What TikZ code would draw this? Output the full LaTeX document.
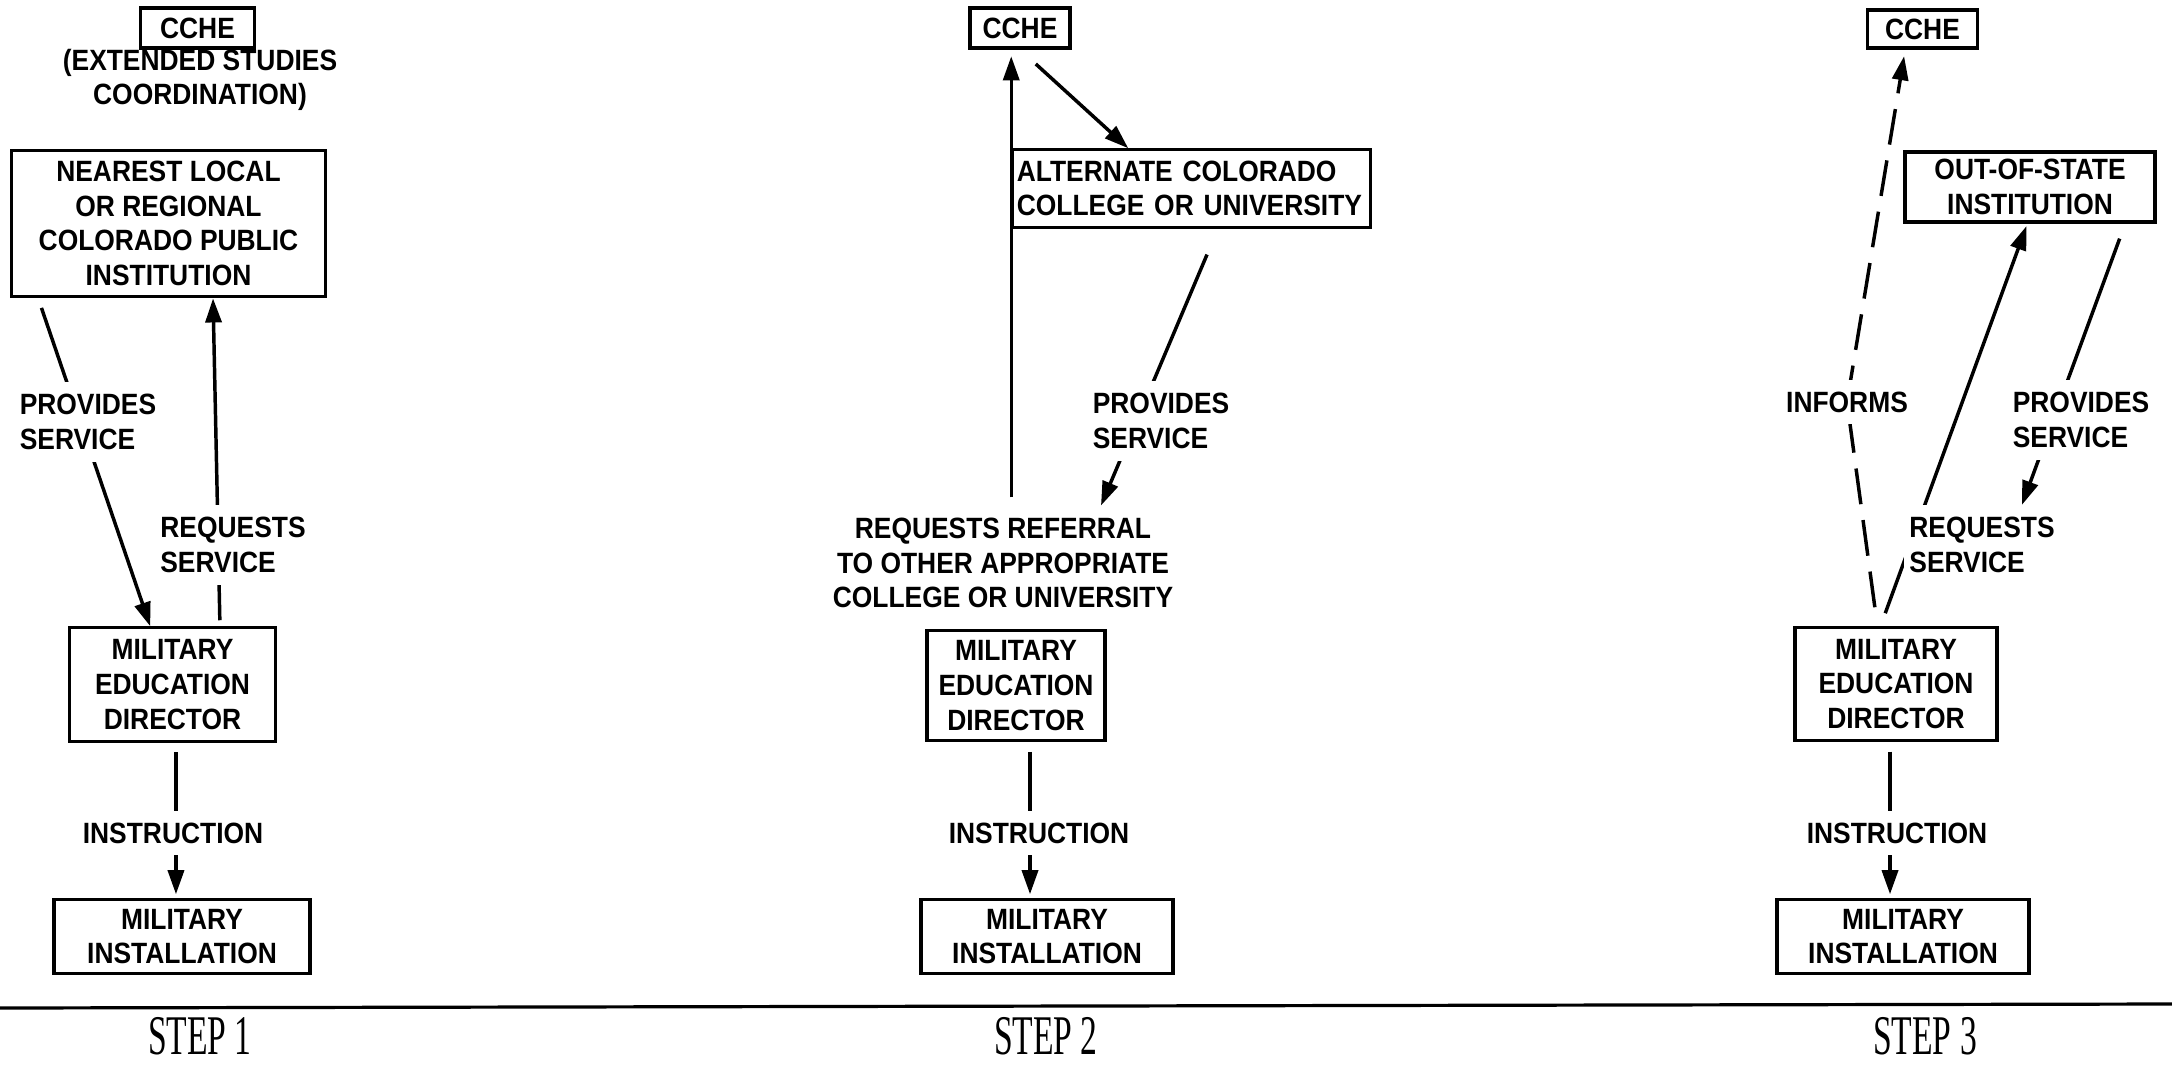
\documentclass[tikz,border=0pt]{standalone}
\usepackage{fontspec}
\setmainfont{Liberation Sans}[FakeStretch=0.9]
\newfontfamily\stepfont{Liberation Serif}[FakeStretch=0.6]
\usetikzlibrary{arrows.meta,backgrounds}

\tikzset{every picture/.style={line width=0.75pt}}
\tikzset{
  box/.style={draw, line width=2.4pt, align=center, inner sep=3pt, font=\bfseries\fontsize{22}{26}\selectfont},
  txt/.style={inner sep=0pt, font=\bfseries\fontsize{22}{26}\selectfont},
  lbl/.style={fill=white, inner xsep=4pt, inner ysep=9pt, font=\bfseries\fontsize{22}{26}\selectfont},
  conn/.style={line width=2.6pt},
  arr/.style={conn, -{Triangle[length=18pt,width=12pt]}},
  steplbl/.style={inner sep=0pt, font=\stepfont\fontsize{42}{46}\selectfont},
}

\begin{document}
\begin{tikzpicture}[x=0.75pt,y=0.75pt,yscale=-1,xscale=1]
\useasboundingbox (0,0) rectangle (2172,1064);

%Step 1 boxes
\node[box, minimum width=86pt, minimum height=30pt] (cche1) at (197.5,28) {CCHE};
\node[txt, align=center] (ext1) at (200,80) {(EXTENDED STUDIES\\COORDINATION)};
\node[box, minimum width=235pt, minimum height=110pt] (near1) at (168.5,223.5) {NEAREST LOCAL\\OR REGIONAL\\COLORADO PUBLIC\\INSTITUTION};
\node[box, minimum width=154pt, minimum height=85pt] (med1) at (172.5,684.5) {MILITARY\\EDUCATION\\DIRECTOR};
\node[box, minimum width=192pt, minimum height=55pt] (inst1) at (182,936.5) {MILITARY\\INSTALLATION};

%Step 2 boxes
\node[box, minimum width=75pt, minimum height=30pt] (cche2) at (1020,28) {CCHE};
\node[box, align=left, text width=262pt, minimum height=58pt] (alt2) at (1191.5,188.5) {ALTERNATE COLORADO\\COLLEGE OR UNIVERSITY};
\node[box, minimum width=133.5pt, minimum height=83pt] (med2) at (1016,685.5) {MILITARY\\EDUCATION\\DIRECTOR};
\node[box, minimum width=189pt, minimum height=55pt] (inst2) at (1047,936.5) {MILITARY\\INSTALLATION};

%Step 3 boxes
\node[box, minimum width=83pt, minimum height=28.5pt] (cche3) at (1922.5,29) {CCHE};
\node[box, minimum width=187.5pt, minimum height=52.5pt] (oos3) at (2030,187) {OUT-OF-STATE\\INSTITUTION};
\node[box, minimum width=151.5pt, minimum height=85pt] (med3) at (1896,684) {MILITARY\\EDUCATION\\DIRECTOR};
\node[box, minimum width=189pt, minimum height=55pt] (inst3) at (1903,936.5) {MILITARY\\INSTALLATION};

% Text Node
\node[lbl, align=left] (prov1) at (88,422) {PROVIDES\\SERVICE};
\node[lbl, align=left] (reqs1) at (233,545) {REQUESTS\\SERVICE};
\node[lbl] (instr1) at (173,833) {INSTRUCTION};
\node[lbl, align=center] (reqr2) at (1003,563) {REQUESTS REFERRAL\\TO OTHER APPROPRIATE\\COLLEGE OR UNIVERSITY};
\node[lbl, align=left] (prov2) at (1161,421) {PROVIDES\\SERVICE};
\node[lbl] (instr2) at (1039,833) {INSTRUCTION};
\node[lbl] (inf3) at (1847,402) {INFORMS};
\node[lbl, align=left] (prov3) at (2081,420) {PROVIDES\\SERVICE};
\node[lbl, align=left] (reqs3) at (1982,545) {REQUESTS\\SERVICE};
\node[lbl] (instr3) at (1897,833) {INSTRUCTION};

%Straight Lines
\begin{pgfonlayer}{background}
\draw[arr, shorten <=7.5pt] ([xshift=21pt]near1.south west) -- ([xshift=61.5pt]med1.north west);
\draw[arr, shorten <=4.5pt] ([xshift=35.6pt]med1.north) -- ([xshift=33.4pt]near1.south);
\draw[arr, shorten <=7pt, shorten >=3pt] ([xshift=2.6pt]med1.south) -- ([xshift=2.6pt]med1.south |- inst1.north);

\draw[arr, shorten <=6pt, shorten >=5pt] (alt2.west |- reqr2.north) -- (alt2.west |- cche2.south);
\draw[arr, shorten <=16pt] (cche2.south) -- ([xshift=87.75pt]alt2.north west);
\draw[arr, shorten <=21pt] ([xshift=155pt]alt2.south west) -- ([xshift=73.5pt]reqr2.north);
\draw[arr, shorten <=7pt, shorten >=3pt] ([xshift=10.5pt]med2.south) -- ([xshift=10.5pt]med2.south |- inst2.north);

\draw[arr, dash pattern=on 27pt off 12pt, shorten <=14pt, shorten >=5pt] ([xshift=-14pt]med3.north) -- (inf3.center) -- ([xshift=-13pt]cche3.south);
\draw[arr, shorten <=10pt, shorten >=2pt] ([xshift=-11.5pt]med3.north) -- ([xshift=-2pt]oos3.south);
\draw[arr, shorten <=12pt] ([xshift=-23.6pt]oos3.south east) -- ([xshift=30pt]reqs3.north);
\draw[arr, shorten <=7pt, shorten >=3pt] ([xshift=-4.5pt]med3.south) -- ([xshift=-4.5pt]med3.south |- inst3.north);
\end{pgfonlayer}

%Rule and step titles
\draw[line width=2.4pt] (0,1008) -- (2172,1004);
\node[steplbl] (step1) at (200,1036) {STEP 1};
\node[steplbl] (step2) at (1046,1036) {STEP 2};
\node[steplbl] (step3) at (1925,1036) {STEP 3};

\end{tikzpicture}
\end{document}
